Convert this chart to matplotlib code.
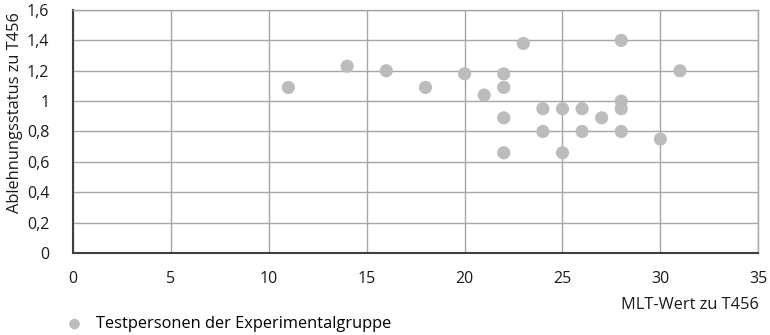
import matplotlib.pyplot as plt

plt.rcParams['font.family'] = ['Open Sans', 'DejaVu Sans']

mlt = [11, 14, 16, 18, 20, 21, 22, 22, 22, 22, 23, 24, 24, 25, 25,
       26, 26, 27, 28, 28, 28, 28, 30, 31]
ablehnung = [1.09, 1.23, 1.2, 1.09, 1.18, 1.04, 1.18, 1.09, 0.89, 0.66, 1.38, 0.95, 0.8, 0.95, 0.66,
             0.95, 0.8, 0.89, 1.4, 1.0, 0.95, 0.8, 0.75, 1.2]

x_ticks = [0, 5, 10, 15, 20, 25, 30, 35]
y_ticks = [0, 0.2, 0.4, 0.6, 0.8, 1.0, 1.2, 1.4, 1.6]
y_labels = ['0', '0,2', '0,4', '0,6', '0,8', '1', '1,2', '1,4', '1,6']

fig = plt.figure(figsize=(7.7, 3.35), dpi=100)
ax = fig.add_axes([0.0948, 0.245, 0.89, 0.725])

ax.scatter(mlt, ablehnung, s=90, color='#bcbcbc', edgecolors='none', zorder=3,
           label='Testpersonen der Experimentalgruppe')

ax.set_xlim(0, 35)
ax.set_ylim(0, 1.6)
ax.set_xticks(x_ticks)
ax.set_yticks(y_ticks)
ax.set_yticklabels(y_labels)
ax.grid(True, color='#a6a6a6', linewidth=1)
ax.set_axisbelow(True)
ax.tick_params(length=0, labelsize=11.5, colors='#1a1a1a')
ax.tick_params(axis='y', pad=17)
ax.tick_params(axis='x', pad=13)

for s in ['top', 'right']:
    ax.spines[s].set_color('#a6a6a6')
    ax.spines[s].set_linewidth(1)
for s in ['left', 'bottom']:
    ax.spines[s].set_color('#404040')
    ax.spines[s].set_linewidth(1.5)

fig.text(0.985, 0.09, 'MLT-Wert zu T456', ha='right', va='center', fontsize=11.8, color='#1a1a1a')
fig.text(0.02, 0.665, 'Ablehnungsstatus zu T456', rotation=90, ha='center', va='center',
         fontsize=11.8, color='#1a1a1a')

fig.legend(loc='lower left', bbox_to_anchor=(0.084, 0.003), frameon=False, fontsize=11.8,
           borderpad=0, borderaxespad=0.1, handlelength=1, handletextpad=0.8, markerscale=0.8)

fig.savefig('out.png', dpi=100)
